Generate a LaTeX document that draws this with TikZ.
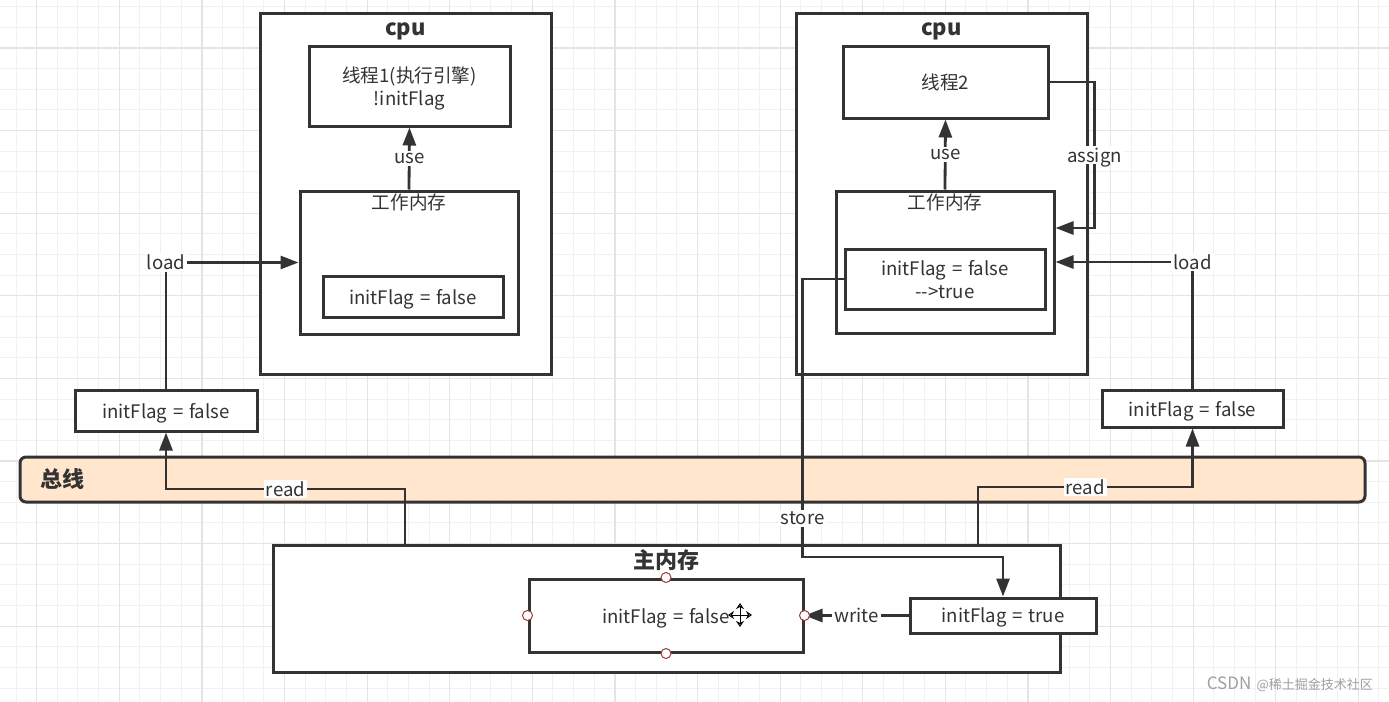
\documentclass[tikz,border=0pt]{standalone}
\usepackage{fontspec}
\setmainfont{Noto Sans CJK SC}[WordSpace=1.4]
\usetikzlibrary{arrows.meta}
\definecolor{ink}{HTML}{333333}
\definecolor{busfill}{HTML}{FFE6CC}
\definecolor{gridmin}{HTML}{F1F1F1}
\definecolor{gridmaj}{HTML}{E4E4E4}
\definecolor{handle}{HTML}{9E3B3B}

\begin{document}
\begin{tikzpicture}[x=0.5pt, y=-0.5pt,
    every node/.style={text=ink, font=\fontsize{9.3}{11.5}\selectfont},
    box/.style={draw=ink, line width=1.5pt, fill=white, inner sep=0pt, text depth=0pt},
    ttl/.style={font=\fontsize{11}{13}\selectfont\bfseries, anchor=base},
    lbl/.style={fill=white, inner sep=1pt, text depth=0pt},
    arr/.style={draw=ink, line width=1.4pt, -{Triangle[length=9pt, width=6.5pt]}},
    hdl/.style={circle, draw=handle, line width=0.5pt, fill=white, inner sep=0pt, minimum size=5pt}]

  % grid paper
  \useasboundingbox (0,0) rectangle (1389,702);
  \fill[white] (0,0) rectangle (1389,702);
  \foreach \i in {0,...,67}
    \draw[gridmin, line width=0.5pt] ({16+20.65*\i},0) -- ++(0,702);
  \foreach \i in {0,...,34}
    \draw[gridmin, line width=0.5pt] (0,{6.7+20.65*\i}) -- ++(1389,0);
  \foreach \i in {0,...,16}
    \draw[gridmaj, line width=0.6pt] ({36.7+82.6*\i},0) -- ++(0,702);
  \foreach \i in {0,...,8}
    \draw[gridmaj, line width=0.6pt] (0,{48+82.6*\i}) -- ++(1389,0);

  % left cpu
  \node[box, minimum width=145.5pt, minimum height=180.5pt] (cpuL) at (405.5,193.5) {};
  \node[ttl] (cpuLt) at ([yshift=-12pt]cpuL.north) {cpu};
  \node[box, minimum width=100.5pt, minimum height=40pt, align=center] (thr1) at (409.5,86) {线程1(执行引擎)\\!initFlag};
  \node[box, minimum width=109pt, minimum height=71.5pt] (wm1) at (409,262.5) {};
  \node[anchor=north, inner sep=2pt] (wm1t) at (wm1.north) {工作内存};
  \node[box, minimum width=90pt, minimum height=20.5pt] (varL) at (413,296.5) {initFlag = false};
  \node[box, minimum width=91pt, minimum height=20.5pt] (cpyL) at (166,410.5) {initFlag = false};

  % right cpu
  \node[box, minimum width=145.5pt, minimum height=180.5pt] (cpuR) at (941.5,193.5) {};
  \node[ttl] (cpuRt) at ([yshift=-12pt]cpuR.north) {cpu};
  \node[box, minimum width=102.5pt, minimum height=36pt] (thr2) at (945.5,82) {线程2};
  \node[box, minimum width=109pt, minimum height=71pt] (wm2) at (945,262) {};
  \node[anchor=north, inner sep=2pt] (wm2t) at (wm2.north) {工作内存};
  \node[box, minimum width=100pt, minimum height=30pt, align=center] (varR) at (945,279) {initFlag = false\\-{}->true};
  \node[box, minimum width=90.5pt, minimum height=18.5pt] (cpyR) at (1192.5,408.5) {initFlag = false};

  % bus
  \node[box, fill=busfill, rounded corners=3pt, minimum width=672.5pt, minimum height=22.5pt] (bus) at (692.5,479.5) {};
  \node[ttl, anchor=west] (bust) at ([xshift=7.5pt]bus.west) {总线};

  % main memory
  \node[box, minimum width=393.5pt, minimum height=63.5pt] (mem) at (666.5,608.5) {};
  \node[ttl] (memt) at ([yshift=-12.5pt]mem.north) {主内存};
  \node[box, minimum width=137pt, minimum height=36.5pt] (memv) at (666,615.5) {initFlag = false};
  \node[box, minimum width=93pt, minimum height=17.5pt] (tru) at (1003,615.5) {initFlag = true};

  % connectors
  \draw[arr] (wm1.north) -- node[lbl] (useL) {use} (thr1.south);
  \draw[arr] (cpyL.north) |- node[lbl, pos=0.5] (loadL) {load} (wm1.west);
  \coordinate (rdL) at (405,545);
  \draw[arr] (rdL) -- ++(0,-56) -| node[lbl, pos=0.25] (readL) {read} (cpyL.south);

  \draw[arr] (wm2.north) -- node[lbl] (useR) {use} (thr2.south);
  \draw[arr] (thr2.east) -- ++(45,0) |- node[lbl, pos=0.25] (asgn) {assign} ([yshift=17pt]wm2.east);
  \draw[arr] (cpyR.north) |- node[lbl, pos=0.5] (loadR) {load} (wm2.east);
  \coordinate (rdR) at (978,545);
  \draw[arr] (rdR) -- ++(0,-58) -| node[lbl, pos=0.25] (readR) {read} (cpyR.south);
  \draw[arr] (varR.west) -| node[lbl, pos=0.93] (stor) {store} ++(-41,278) -| (tru.north);
  \draw[arr] (tru.west) -- node[lbl] (wrt) {write} (memv.east);

  % selection handles and cursor
  \foreach \a in {north, south, east, west}
    \node[hdl] (h\a) at (memv.\a) {};
  \draw[line width=0.5pt, {Stealth[open, length=3pt, width=4pt]}-{Stealth[open, length=3pt, width=4pt]}] (728,615) -- (752,615);
  \draw[line width=0.5pt, {Stealth[open, length=3pt, width=4pt]}-{Stealth[open, length=3pt, width=4pt]}] (740,603) -- (740,627);

  % watermark
  \node[anchor=east, text=gray!75] (wmark) at (1380,684) {\fontsize{8.5}{10}\selectfont CSDN {\fontsize{6.5}{8}\selectfont @稀土掘金技术社区}};
\end{tikzpicture}
\end{document}
